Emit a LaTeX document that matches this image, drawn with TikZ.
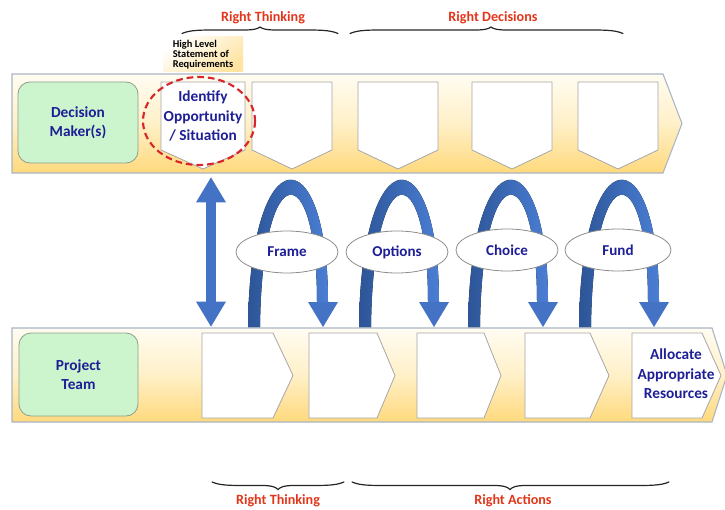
\documentclass[tikz,border=0pt]{standalone}
\usepackage{fontspec}
\setmainfont{Carlito}
\usetikzlibrary{shapes.geometric,arrows.meta}

\definecolor{navy}{HTML}{1E1E96}
\definecolor{phasered}{HTML}{E2361A}
\definecolor{bandedge}{HTML}{A9B5C4}
\definecolor{bandtop}{HTML}{FFFCF2}
\definecolor{bandmid}{HTML}{FFF0C8}
\definecolor{bandbot}{HTML}{FFD97C}
\definecolor{actorgreen}{HTML}{CDF5CD}
\definecolor{greenedge}{HTML}{8E9E8E}
\definecolor{stageedge}{HTML}{A6A6A6}
\definecolor{loopdark}{HTML}{2D5597}
\definecolor{looplight}{HTML}{4A7ED4}
\definecolor{arrowblue}{HTML}{4472C4}
\definecolor{circlered}{HTML}{D9262B}
\definecolor{reqgold}{HTML}{FFE3A0}

\tikzset{bigtip/.tip={Triangle[length=19pt,width=21pt]}}

\begin{document}
\begin{tikzpicture}[x=0.75pt,y=-0.75pt,
  band/.style={draw=bandedge, line width=0.8pt, top color=bandtop, bottom color=bandbot, middle color=bandmid},
  actor/.style={rectangle, draw=greenedge, fill=actorgreen, rounded corners=9pt, line width=0.6pt},
  stage/.style={draw=stageedge, fill=white, line width=0.6pt},
  lbl/.style={text=navy, font=\bfseries\fontsize{11.5}{14.5}\selectfont, align=center},
  phase/.style={text=phasered, font=\bfseries\fontsize{10.6}{12}\selectfont},
  gate/.style={ellipse, draw=black!45, fill=white, line width=0.6pt, minimum width=76.5pt, minimum height=31.5pt, inner sep=0pt, text=navy, font=\bfseries\fontsize{11.3}{13}\selectfont},
  loopband/.style={left color=loopdark, right color=looplight},
  loophead/.style={fill=arrowblue},
  brc/.style={draw=black!85, line width=0.9pt, line cap=round}
]
\useasboundingbox (0,0) rectangle (725,510);

% ---- phase labels, top ----
\node[phase] (rt1) at (263,18) {Right Thinking};
\node[phase] (rd) at (493,18) {Right Decisions};

% ---- flattened curly braces: left x / tip x / right x / end y / flat y / tip y ----
\foreach \a/\m/\b/\e/\f/\t in {182/260/338/33.5/30/27, 350/491/623/33.5/30/27,
                               212/278/344/482/485.5/489.5, 352/510/669/482/485.5/489.5}{
  \draw[brc] (\a,\e) .. controls ({\a+8},\f) and ({\a+18},\f) .. ({\a+35},\f)
    -- ({\m-16},\f) .. controls ({\m-5},\f) and ({\m-2},{(\f+\t)/2}) .. (\m,\t)
    .. controls ({\m+2},{(\f+\t)/2}) and ({\m+5},\f) .. ({\m+16},\f)
    -- ({\b-35},\f) .. controls ({\b-18},\f) and ({\b-8},\f) .. (\b,\e);
}

% ---- requirements note ----
\node[rectangle, top color=white, bottom color=reqgold, shading angle=35,
      minimum width=60pt, minimum height=26.25pt, inner sep=2pt,
      align=left, font=\bfseries\fontsize{7.8}{7.4}\selectfont] (req) at (203,54.5)
      {High Level\\Statement of\\Requirements};

% ---- decision makers swim lane ----
\path[band] (12,74) -- (663,74) -- (682,123.5) -- (663,173) -- (12,173) -- cycle;
\node[actor, lbl, minimum width=90pt, minimum height=60.75pt] (dm) at (78,122.5) {Decision\\Maker(s)};
\foreach \a/\b/\n in {161/245/1, 252/332/2, 358/438/3, 472/552/4, 578/658/5}{
  \draw[stage] (\a,82) -- (\b,82) -- (\b,150) -- ({(\a+\b)/2},169) -- (\a,150) -- cycle;
  \coordinate (t\n) at ({(\a+\b)/2},169);
}
\node[lbl] (identify) at (203,116) {Identify\\Opportunity\\/ Situation};
\draw[circlered, line width=1.6pt, dash pattern=on 5pt off 3pt] (199,121) ellipse [x radius=56, y radius=44];

% ---- project team swim lane ----
\path[band] (12,328) -- (712,328) -- (727,375) -- (712,422) -- (12,422) -- cycle;
\node[actor, lbl, minimum width=89.25pt, minimum height=62.25pt] (pt) at (78.5,374.5) {Project\\Team};
\foreach \a/\b/\c/\n in {202/273/293/1, 309/377/395/2, 417/484/501/3, 525/590/609/4, 632/702/721/5}{
  \draw[stage] (\a,333) -- (\b,333) -- (\c,375.5) -- (\b,418) -- (\a,418) -- cycle;
  \coordinate (b\n) at ({(\a+\b)/2},333);
}
\node[lbl] (alloc) at (676,374) {Allocate\\Appropriate\\Resources};

% ---- two-way link between the lanes ----
\coordinate (linkup) at (211,177);
\coordinate (linkdn) at (211,327);
\draw[arrowblue, line width=7.5pt, {bigtip}-{bigtip}] (linkup) -- (linkdn);

% ---- decision loops ----
\foreach \c in {323,434,543,654}{
  \fill[loopband] ({\c-75},327) .. controls ({\c-73},135) and ({\c+5},135) .. ({\c+5},302)
     -- ({\c-6},302) .. controls ({\c-6},155) and ({\c-61},155) .. ({\c-63},327) -- cycle;
  \fill[loophead] ({\c-15},302) -- ({\c+15},302) -- (\c,327) -- cycle;
}
\node[gate] (frame) at (287,252) {Frame};
\node[gate] (options) at (397,252) {Options};
\node[gate] (choice) at (507,250) {Choice};
\node[gate, minimum width=79.5pt] (fund) at (618,250) {Fund};

% ---- phase labels, bottom ----
\node[phase] (rt2) at (278,501) {Right Thinking};
\node[phase] (ra) at (513,501) {Right Actions};
\end{tikzpicture}
\end{document}
